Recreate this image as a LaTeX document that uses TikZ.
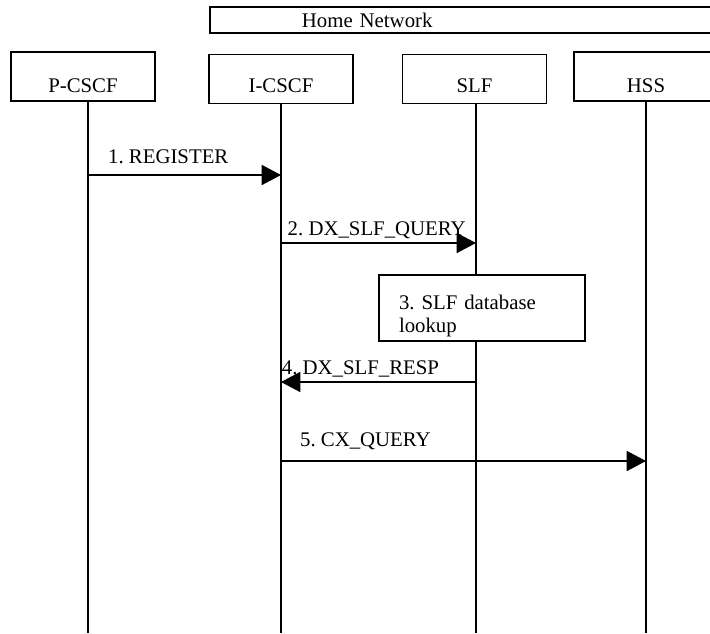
\documentclass[tikz,border=0pt]{standalone}
\usepackage{fontspec}
\setmainfont{Liberation Serif}
\usetikzlibrary{positioning,arrows.meta,calc}
\frenchspacing

\begin{document}
\begin{tikzpicture}[
  x=0.75pt, y=-0.75pt,
  font=\fontsize{15.6}{17.25}\selectfont,
  entity/.style={draw,line width=1.4pt,minimum width=108pt,minimum height=36.75pt,
                 inner sep=1pt,text depth=0pt},
  life/.style={line width=1.4pt},
  msg/.style={-{Triangle[length=14.5pt,width=15pt]},line width=1.3pt},
  msglabel/.style={anchor=base west,inner sep=0pt}
]
\useasboundingbox (0,0) rectangle (710,633);
\coordinate (bottom) at (0,633);

% the home network banner
\node[draw,line width=1.4pt,anchor=west,minimum height=19.5pt,text height=10.5pt,
      text depth=0pt,inner ysep=1pt,inner xsep=69pt,text width=245.25pt,align=left]
  (home) at (209,20) {Home Network};

% the four entities
\node[entity,text height=23.25pt] (pcscf) at (83,76.5) {P-CSCF};
\node[entity,text height=19.5pt] (icscf) at (281,79) {I-CSCF};
\node[entity,text height=19.5pt] (slf) at (474.5,79) {SLF};
\node[entity,text height=23.25pt] (hss) at (646,76.5) {HSS};

% lifelines
\coordinate (pcscfL) at ($(pcscf.south)+(5,0)$);
\coordinate (icscfL) at (icscf.south);
\coordinate (slfL) at ($(slf.south)+(1.5,0)$);
\coordinate (hssL) at (hss.south);
\foreach \e in {pcscfL,icscfL,slfL,hssL}
  \draw[life] (\e) -- (\e |- bottom);

% message levels
\coordinate (m1) at (0,175);
\coordinate (m2) at (0,243);
\coordinate (m4) at (0,382);
\coordinate (m5) at (0,461);

\draw[msg] (pcscfL |- m1) -- node[msglabel,pos=0.1,yshift=9pt] {1. REGISTER} (icscfL |- m1);
\draw[msg] (icscfL |- m2) -- node[msglabel,pos=0.03,yshift=6pt] {2. DX\_SLF\_QUERY} (slfL |- m2);

\node[draw,fill=white,line width=1.4pt,minimum width=154.5pt,minimum height=49.5pt,
      inner xsep=15pt,inner ysep=1pt,text width=124.5pt,align=left]
  (lookup) at (482,308) {\rule{0pt}{23.25pt}3. SLF database\\lookup};

\draw[msg] (slfL |- m4) -- node[msglabel,pos=1,yshift=6pt] {4. DX\_SLF\_RESP} (icscfL |- m4);
\draw[msg] (icscfL |- m5) -- node[msglabel,pos=0.05,yshift=11.25pt] {5. CX\_QUERY} (hssL |- m5);
\end{tikzpicture}
\end{document}
